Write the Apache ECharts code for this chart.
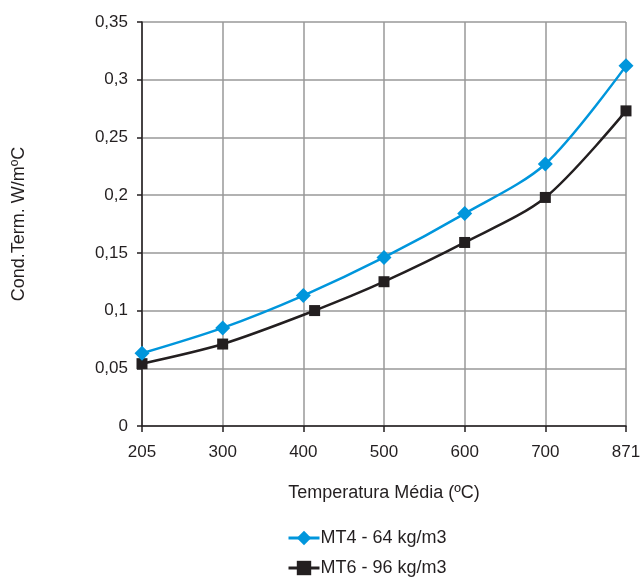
<!DOCTYPE html>
<html>
<head>
<meta charset="utf-8">
<script src="https://cdn.jsdelivr.net/npm/echarts@6/dist/echarts.min.js"></script>
<style>
  html, body { margin: 0; padding: 0; background: #fff; }
  #chart { width: 641px; height: 579px; }
</style>
</head>
<body>
<div id="chart"></div>
<script>
// temperatures shown under the axis (evenly spaced, like categories)
const temps = ["205", "300", "400", "500", "600", "700", "871"];
// position of each point along the category axis (index units)
const mt4X = [0, 1, 2, 3, 4, 5, 6];
const mt6X = [0, 1, 2.14, 3, 4, 5, 6];
const mt4 = [0.063, 0.085, 0.113, 0.146, 0.184, 0.227, 0.312];
const mt6 = [0.054, 0.071, 0.100, 0.125, 0.159, 0.198, 0.273];
const names = ["MT4 - 64 kg/m3", "MT6 - 96 kg/m3"];

const font = "Liberation Sans, Arial, sans-serif";
const ink = "#231f20";
const chart = echarts.init(document.querySelector("#chart"), null, {renderer: "canvas"});

function legendAt(top, name) {
  return {
    orient: "vertical",
    left: 282,
    top: top,
    itemWidth: 31,
    itemHeight: 18,
    lineStyle: {width: 3},
    textStyle: {fontSize: 18, color: ink, fontFamily: font, padding: [0, 0, 0, -4]},
    data: [name]
  };
}

chart.setOption({
  animation: false,
  textStyle: {fontFamily: font},
  grid: {left: 142, right: 15, top: 22, bottom: 153, outerBoundsMode: "none"},
  xAxis: {
    type: "value",
    min: 0,
    max: 6,
    interval: 1,
    name: "Temperatura Média (ºC)",
    nameLocation: "middle",
    nameGap: 58,
    nameTextStyle: {fontSize: 18, color: ink, fontFamily: font},
    axisLine: {show: true, onZero: false, lineStyle: {color: ink, width: 1.5}},
    axisTick: {show: true, length: 6, lineStyle: {color: ink, width: 1.5}},
    axisLabel: {
      fontSize: 17, color: ink, margin: 18, fontFamily: font,
      formatter: v => temps[v] || ""
    },
    splitLine: {show: true, lineStyle: {color: "#999", width: 1.5}}
  },
  yAxis: {
    type: "value",
    min: 0,
    max: 0.35,
    interval: 0.05,
    name: "Cond.Term. W/mºC",
    nameLocation: "middle",
    nameGap: 114,
    nameTextStyle: {fontSize: 18, color: ink, fontFamily: font},
    axisLine: {show: true, lineStyle: {color: ink, width: 1.5}},
    axisTick: {show: true, length: 5, lineStyle: {color: ink, width: 1.5}},
    axisLabel: {
      fontSize: 17, color: ink, margin: 14, fontFamily: font,
      formatter: v => String(+v.toFixed(2)).replace(".", ",")
    },
    splitLine: {show: true, lineStyle: {color: "#999", width: 1.5}}
  },
  legend: [legendAt(524, names[0]), legendAt(554, names[1])],
  series: [
    {
      name: names[0],
      type: "line",
      smooth: 0.3,
      data: mt4X.map((x, i) => [x, mt4[i]]),
      symbol: "diamond",
      symbolSize: 15,
      itemStyle: {color: "#0096dc"},
      lineStyle: {color: "#0096dc", width: 2.5},
      z: 3
    },
    {
      name: names[1],
      type: "line",
      smooth: 0.3,
      data: mt6X.map((x, i) => [x, mt6[i]]),
      symbol: "rect",
      symbolSize: 11,
      itemStyle: {color: ink},
      lineStyle: {color: ink, width: 2.5},
      z: 2
    }
  ]
});
</script>
</body>
</html>
